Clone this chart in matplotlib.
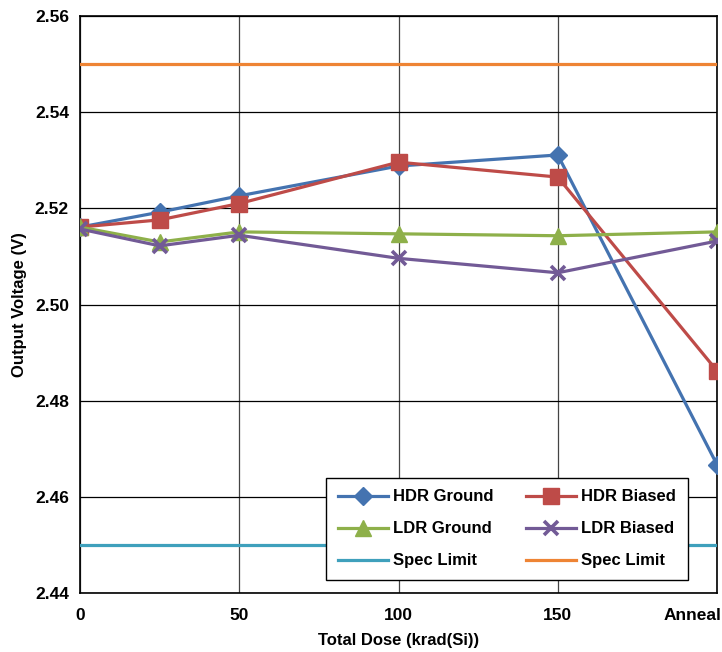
import matplotlib
matplotlib.use("Agg")
import matplotlib.pyplot as plt
from matplotlib.transforms import ScaledTranslation

plt.rcParams['font.family'] = ['Liberation Sans', 'DejaVu Sans']
plt.rcParams['font.weight'] = 'bold'

x_vals = [0, 25, 50, 100, 150, 200]
x_ticks = [0, 50, 100, 150, 200]
x_ticklabels = ['0', '50', '100', '150', 'Anneal']

hdr_ground = [2.5161, 2.5192, 2.5226, 2.5288, 2.5311, 2.4667]
hdr_biased = [2.5161, 2.5176, 2.5210, 2.5296, 2.5265, 2.4862]
ldr_ground = [2.5161, 2.5130, 2.5151, 2.5147, 2.5143, 2.5151]
ldr_biased = [2.5157, 2.5122, 2.5144, 2.5096, 2.5066, 2.5132]
spec_low = 2.45
spec_high = 2.55

fig = plt.figure(figsize=(7.22, 6.52), dpi=100)
ax = fig.add_axes([80/722, 59/652, 637/722, 577/652])

lw = 2.3
h1, = ax.plot(x_vals, hdr_ground, color='#4473B0', lw=lw, marker='D', ms=9.5, label='HDR Ground', zorder=5)
h2, = ax.plot(x_vals, hdr_biased, color='#BE4B48', lw=lw, marker='s', ms=11, label='HDR Biased', zorder=5)
h3, = ax.plot(x_vals, ldr_ground, color='#8EB04A', lw=lw, marker='^', ms=11, label='LDR Ground', zorder=5)
h4, = ax.plot(x_vals, ldr_biased, color='#725A96', lw=lw, marker='x', ms=10, mew=2.6, label='LDR Biased', zorder=5)
h5 = ax.axhline(spec_low, color='#3FA0BC', lw=lw, label='Spec Limit', zorder=4)
h6 = ax.axhline(spec_high, color='#EE8434', lw=lw, label='Spec Limit', zorder=4)

ax.set_xlim(0, 200)
ax.set_ylim(2.44, 2.56)
ax.set_yticks([2.44, 2.46, 2.48, 2.50, 2.52, 2.54, 2.56])
ax.set_yticklabels(['2.44', '2.46', '2.48', '2.50', '2.52', '2.54', '2.56'])
ax.set_xticks(x_ticks)
ax.set_xticklabels(x_ticklabels)
ax.tick_params(axis='y', length=0, labelsize=12.5, pad=8)
ax.tick_params(axis='x', length=0, labelsize=12.5, pad=11)
for lab in ax.get_xticklabels() + ax.get_yticklabels():
    lab.set_fontweight('bold')
# keep the last x label inside the picture
last = ax.get_xticklabels()[-1]
last.set_horizontalalignment('right')
last.set_transform(last.get_transform() + ScaledTranslation(4/100, 0, fig.dpi_scale_trans))

ax.yaxis.grid(True, color='black', lw=0.9)
ax.xaxis.grid(True, color='#444444', lw=0.9)
ax.set_axisbelow(True)
for s in ax.spines.values():
    s.set_color('black')
    s.set_linewidth(1.2)

ax.set_xlabel('Total Dose (krad(Si))', fontsize=12, fontweight='bold', va='center')
ax.xaxis.set_label_coords(0.5, (593 - 640) / 577)
ax.set_ylabel('Output Voltage (V)', fontsize=12, fontweight='bold', va='center')
ax.yaxis.set_label_coords((20 - 80) / 637, 0.5)

leg = ax.legend(handles=[h1, h3, h5, h2, h4, h6], ncol=2, loc='lower right',
                bbox_to_anchor=(0.9545, 0.0225), borderaxespad=0.0,
                fancybox=False, framealpha=1,
                edgecolor='black', prop={'size': 12, 'weight': 'bold'},
                handlelength=3.0, handletextpad=0.3, columnspacing=2.0,
                labelspacing=1.02, borderpad=0.7)
leg.get_frame().set_linewidth(1.0)
leg.set_zorder(10)

fig.savefig('out.png', dpi=100)
